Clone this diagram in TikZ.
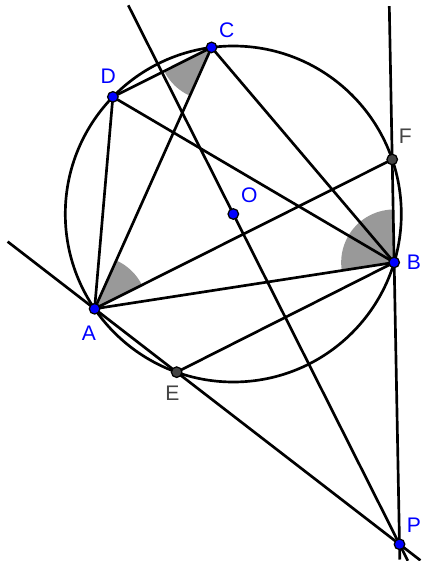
\documentclass[tikz,border=0pt]{standalone}
\usepackage{fontspec}
\setmainfont{Liberation Sans}
\usetikzlibrary{calc}
\definecolor{ptblue}{RGB}{0,0,255}
\definecolor{ptgray}{RGB}{68,68,68}
\definecolor{wedgegray}{RGB}{153,153,153}
\begin{document}
\begin{tikzpicture}[line width=1.9pt,
	bluept/.style={circle,draw=black,fill=ptblue,line width=0.9pt,inner sep=0pt,minimum size=7.5pt},
	graypt/.style={bluept,fill=ptgray},
	bluelbl/.style={text=ptblue,font=\fontsize{15}{17}\selectfont,inner sep=0pt},
	graylbl/.style={bluelbl,text=ptgray}]
	\useasboundingbox (-5.8325,-8.675) rectangle (4.7675,5.35);
	\coordinate (O) at (0,0);
	\coordinate (A) at (214.35:4.2);
	\coordinate (B) at (-16.76:4.2);
	\coordinate (C) at (97.44:4.2);
	\coordinate (D) at (135.8:4.2);
	\coordinate (E) at (250.3:4.2);
	\coordinate (F) at (18.94:4.2);
	\coordinate (P) at (intersection of A--E and F--B);
	\coordinate (AEleft) at ($(A)!-1.06!(E)$);
	\coordinate (AEright) at ($(A)!3.97!(E)$);
	\coordinate (OPtop) at ($(O)!-0.632!(P)$);
	\coordinate (OPbottom) at ($(O)!1.05!(P)$);
	\coordinate (FBtop) at ($(F)!-1.49!(B)$);
	\coordinate (FBbottom) at ($(F)!3.885!(B)$);
	\fill[wedgegray] (C) -- ++(206.6:1.325) arc (206.6:245.9:1.325) -- cycle;
	\fill[wedgegray] (A) -- ++(26.6:1.325) arc (26.6:65.9:1.325) -- cycle;
	\fill[wedgegray] (B) -- ++(91.1:1.325) arc (91.1:188.8:1.325) -- cycle;
	\draw (O) circle (4.2);
	\draw (AEleft) -- (AEright);
	\draw (OPtop) -- (OPbottom);
	\draw (FBtop) -- (FBbottom);
	\draw (A) -- (C);
	\draw (A) -- (D);
	\draw (D) -- (C);
	\draw (C) -- (B);
	\draw (D) -- (B);
	\draw (A) -- (F);
	\draw (A) -- (B);
	\draw (E) -- (B);
	\node[bluept] (Adot) at (A) {};
	\node[bluept] (Bdot) at (B) {};
	\node[bluept] (Cdot) at (C) {};
	\node[bluept] (Ddot) at (D) {};
	\node[bluept] (Odot) at (O) {};
	\node[bluept] (Pdot) at (P) {};
	\node[graypt] (Edot) at (E) {};
	\node[graypt] (Fdot) at (F) {};
	\node[bluelbl] (Alabel) at (-3.6075,-2.9825) {A};
	\node[bluelbl] (Blabel) at (4.5175,-1.2175) {B};
	\node[bluelbl] (Clabel) at (-0.165,4.6) {C};
	\node[bluelbl] (Dlabel) at (-3.125,3.4325) {D};
	\node[bluelbl] (Olabel) at (0.4,0.4575) {O};
	\node[bluelbl] (Plabel) at (4.5175,-7.775) {P};
	\node[graylbl] (Elabel) at (-1.525,-4.4825) {E};
	\node[graylbl] (Flabel) at (4.3,1.9325) {F};
\end{tikzpicture}
\end{document}
